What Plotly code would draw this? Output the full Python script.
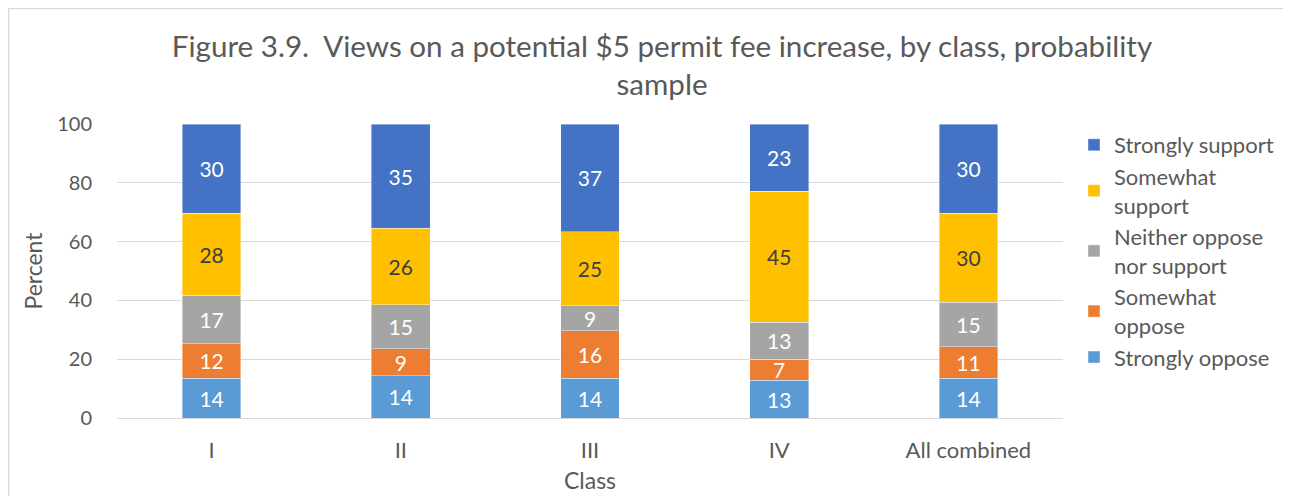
import plotly.graph_objects as go

categories = ["I", "II", "III", "IV", "All combined"]
strongly_oppose = [13.6, 14.3, 13.6, 12.8, 13.6]
somewhat_oppose = [11.7, 9.3, 16.0, 7.1, 10.6]
neither = [16.5, 14.9, 8.6, 12.7, 15.1]
somewhat_support = [27.8, 26.1, 25.2, 44.6, 30.3]
strongly_support = [30.4, 35.4, 36.6, 22.8, 30.4]

series = [
    ("Strongly oppose", strongly_oppose, "#5B9BD5", "white"),
    ("Somewhat<br>oppose", somewhat_oppose, "#ED7D31", "white"),
    ("Neither oppose<br>nor support", neither, "#A5A5A5", "white"),
    ("Somewhat<br>support", somewhat_support, "#FFC000", "#404040"),
    ("Strongly support", strongly_support, "#4472C4", "white"),
]

FONT = "Lato, 'Open Sans', sans-serif"

fig = go.Figure()
for name, vals, color, tcol in series:
    fig.add_trace(go.Bar(
        x=categories, y=vals, name=name,
        marker=dict(color=color, line=dict(color="rgba(255,255,255,0.5)", width=0.8)),
        texttemplate="%{y:.0f}", textposition="inside", insidetextanchor="middle",
        textangle=0,
        textfont=dict(color=tcol, size=21, family=FONT),
    ))

# page body has an 8px margin; work in screen coordinates and offset
OFF = 8
W, H = 1291 - OFF, 496 - OFF
L, R, T, B = 117 - OFF, 1291 - 1063, 124 - OFF, 496 - 418
pw, ph = W - L - R, H - T - B

def px(x):
    return (x - OFF - L) / pw

def py(y):
    return (H - B - (y - OFF)) / ph

fig.update_layout(
    width=W, height=H, barmode="stack", bargap=0.69,
    margin=dict(l=L, r=R, t=T, b=B, autoexpand=False),
    paper_bgcolor="white", plot_bgcolor="white",
    font=dict(family=FONT, color="#595959", size=20),
    uniformtext=dict(minsize=20, mode="show"),
    title=dict(
        text="Figure 3.9.  Views on a potential $5 permit fee increase, by class, probability<br>sample",
        x=px(662), xref="paper", xanchor="center",
        y=1 - (57 - OFF) / H, yanchor="middle",
        font=dict(size=29.6, color="#595959", family=FONT),
    ),
    xaxis=dict(
        title=dict(text="Class", font=dict(size=23), standoff=10),
        showgrid=False, showline=False, ticks="", ticklabelstandoff=17,
        tickfont=dict(size=22), automargin=False,
    ),
    yaxis=dict(
        range=[0, 100], tickvals=[0, 20, 40, 60, 80, 100],
        showgrid=True, gridcolor="#D9D9D9", gridwidth=1.3,
        zeroline=True, zerolinecolor="#D9D9D9", zerolinewidth=1.3,
        showline=False, ticks="", ticklabelstandoff=24, tickfont=dict(size=20),
        title=dict(text="Percent", font=dict(size=23), standoff=8),
        automargin=False,
    ),
    legend=dict(
        x=px(1074), xanchor="left", y=py(124), yanchor="top",
        traceorder="reversed", font=dict(size=22, color="#595959"),
        itemwidth=30, tracegroupgap=0, bgcolor="rgba(0,0,0,0)",
        maxheight=0.9,
    ),
    shapes=[dict(
        type="rect", xref="paper", yref="paper",
        x0=px(OFF + 0.7), x1=px(1400), y0=py(700), y1=py(OFF + 0.7),
        line=dict(color="#D9D9D9", width=1.3), fillcolor="rgba(0,0,0,0)", layer="below",
    )],
)

fig.write_html("out.html")
